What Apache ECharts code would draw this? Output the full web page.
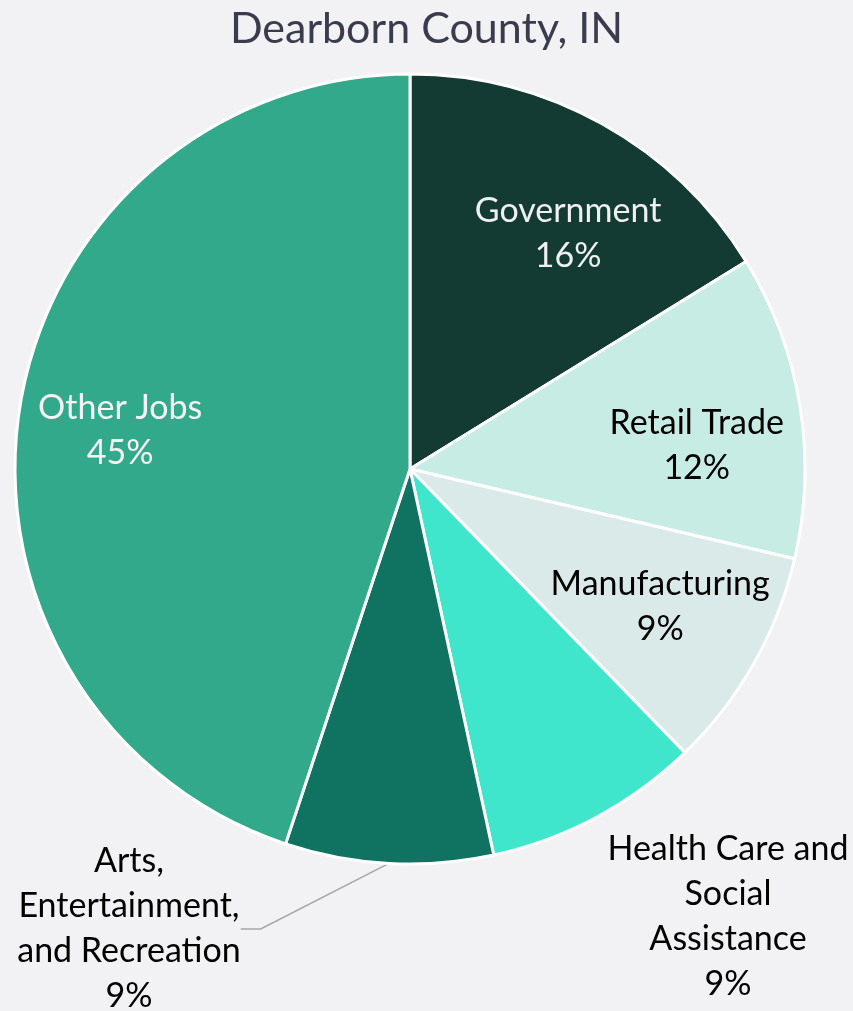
<!DOCTYPE html>
<html>
<head>
<meta charset="utf-8">
<title>Dearborn County, IN</title>
<script src="https://cdn.jsdelivr.net/npm/echarts@6/dist/echarts.min.js"></script>
<style>
  html, body { margin: 0; padding: 0; background: #F2F2F4; }
  #chart { width: 853px; height: 1011px; }
</style>
</head>
<body>
<div id="chart"></div>
<script>
// Employment share by industry
const categories = [
  'Government',
  'Retail Trade',
  'Manufacturing',
  'Health Care and\nSocial\nAssistance',
  'Arts,\nEntertainment,\nand Recreation',
  'Other Jobs'
];
const shares = [16.2, 12.45, 9.1, 8.85, 8.5, 44.9];
const sliceColors = ['#133A33', '#C6ECE4', '#DAEAE8', '#40E6CC', '#107261', '#33A98B'];
const labelColors = ['#F0F0F0', '#000000', '#000000', '#000000', '#000000', '#F4F4F4'];
const outsideIdx = [3, 4];

const FONT = 'Lato, "Open Sans", sans-serif';
const center = [410, 469];
const R = 395;

// nudges for the inside labels, per slice
const insideOffsets = [[18, 16], [3, 23], [0, -4], [0, 0], [0, 0], [-6, 7]];

const chart = echarts.init(document.getElementById('chart'), null, { renderer: 'canvas' });

const baseData = categories.map((name, i) => ({ name, value: shares[i] }));

const option = {
  backgroundColor: '#F2F2F4',
  animation: false,
  title: {
    text: 'Dearborn County, IN',
    left: 'center',
    top: 3,
    textStyle: { fontFamily: FONT, fontSize: 43, fontWeight: 'normal', color: '#3B3B4E' }
  },
  series: [
    {
      // slices, with the two outer labels
      type: 'pie',
      center: center,
      radius: [0, R],
      startAngle: 90,
      clockwise: true,
      avoidLabelOverlap: false,
      percentPrecision: 0,
      itemStyle: { borderColor: '#FFFFFF', borderWidth: 3 },
      label: {
        show: true,
        position: 'outside',
        formatter: '{b}\n{d}%',
        fontFamily: FONT,
        fontSize: 34,
        lineHeight: 45,
        color: '#000000',
        align: 'center'
      },
      labelLine: { show: true, lineStyle: { color: '#A6A6A6', width: 1.5 }, length: 20, length2: 20 },
      labelLayout: function (p) {
        if (p.dataIndex === 3) return { x: 728, y: 917, align: 'center', verticalAlign: 'middle' };
        if (p.dataIndex === 4) return { x: 129, y: 929, align: 'center', verticalAlign: 'middle' };
        return {};
      },
      data: baseData.map((d, i) => ({
        name: d.name,
        value: d.value,
        itemStyle: { color: sliceColors[i] },
        label: { show: outsideIdx.includes(i) },
        labelLine: { show: i === 4 }
      }))
    },
    {
      // inside labels, placed along a ring
      type: 'pie',
      center: center,
      radius: [174, R],
      startAngle: 90,
      clockwise: true,
      silent: true,
      avoidLabelOverlap: false,
      percentPrecision: 0,
      itemStyle: { color: 'rgba(0,0,0,0)', borderWidth: 0 },
      label: {
        show: true,
        position: 'inside',
        formatter: '{b}\n{d}%',
        fontFamily: FONT,
        fontSize: 34,
        lineHeight: 45,
        align: 'center'
      },
      labelLine: { show: false },
      data: baseData.map((d, i) => ({
        name: d.name,
        value: d.value,
        label: {
          show: !outsideIdx.includes(i),
          color: labelColors[i],
          offset: insideOffsets[i]
        }
      }))
    }
  ]
};

chart.setOption(option);
</script>
</body>
</html>
